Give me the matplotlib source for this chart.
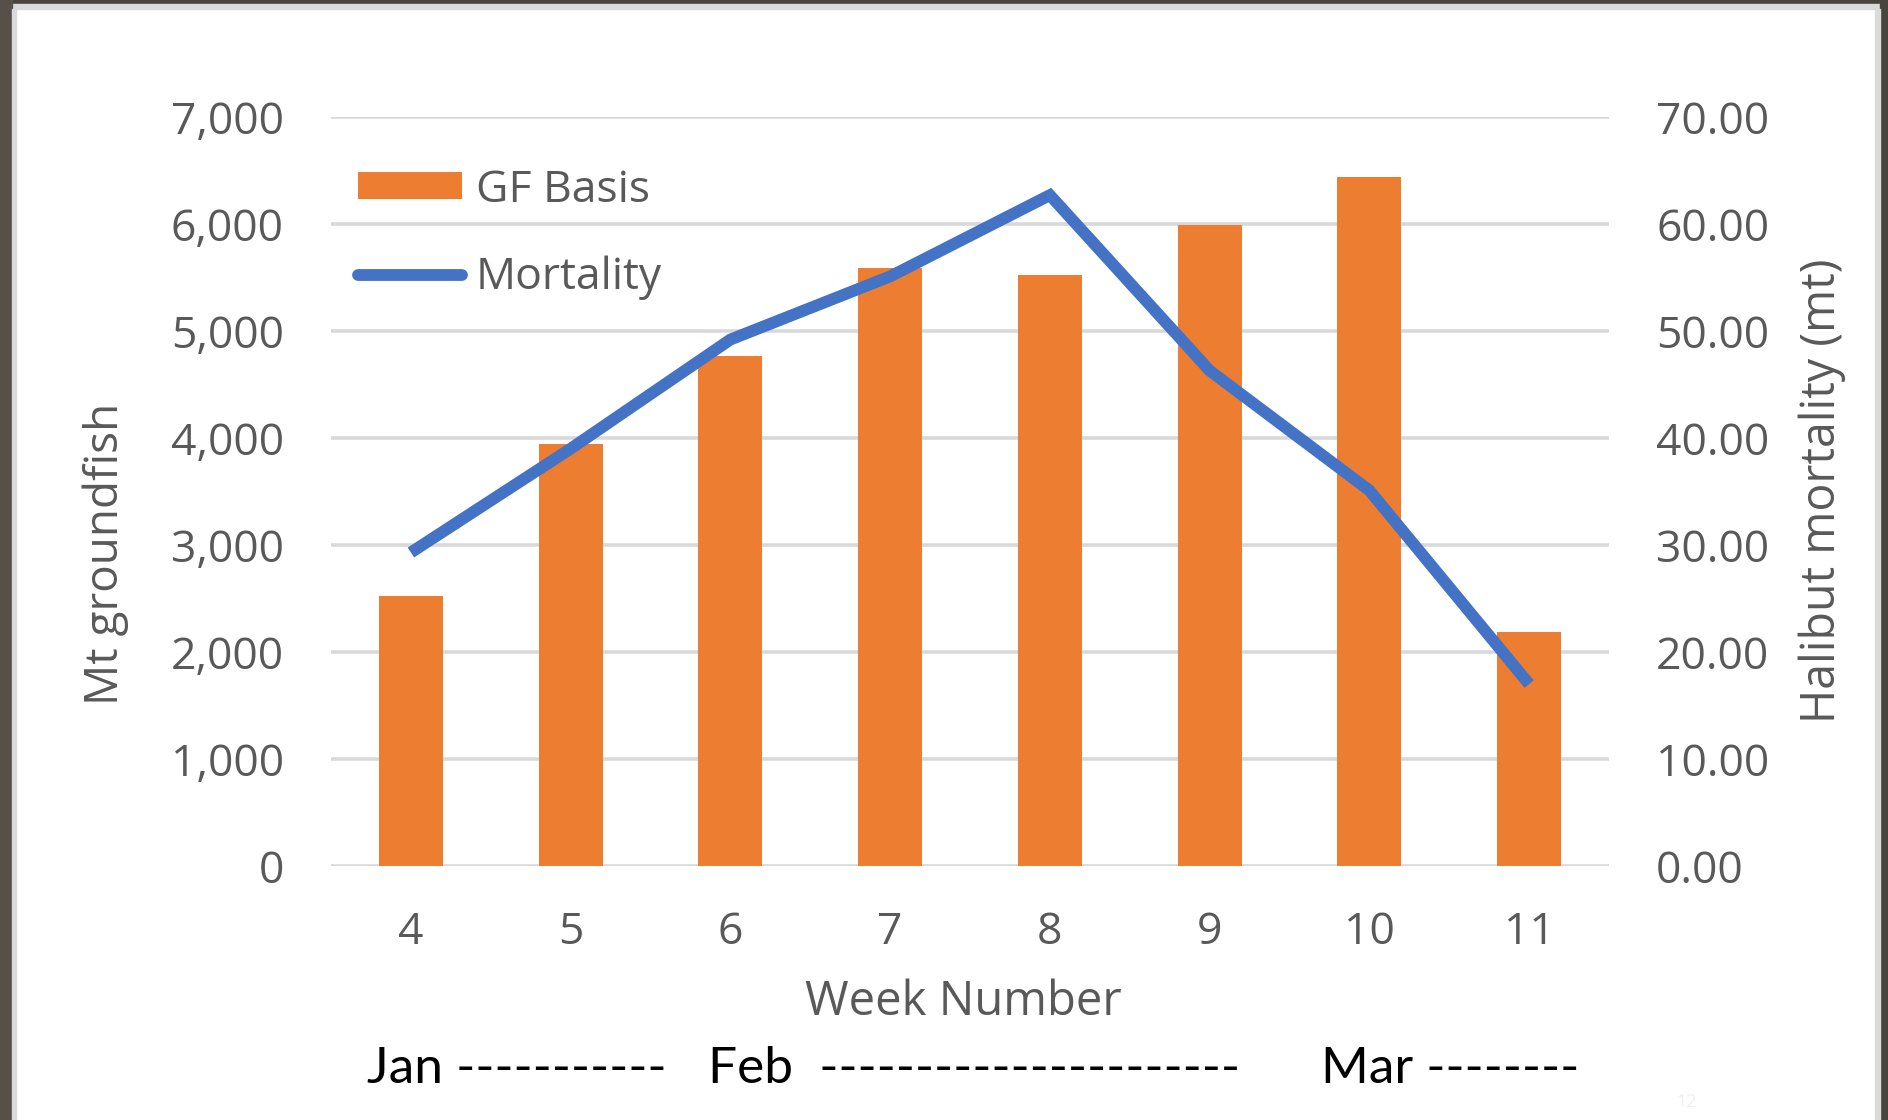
import matplotlib
matplotlib.use("Agg")
import matplotlib.pyplot as plt
from matplotlib.patches import Rectangle, Patch
from matplotlib.lines import Line2D
from matplotlib.ticker import FuncFormatter, MultipleLocator

weeks = ["4", "5", "6", "7", "8", "9", "10", "11"]
gf_basis = [2520, 3940, 4770, 5590, 5520, 5990, 6440, 2190]
mortality = [29.3, 39.0, 49.2, 55.1, 62.7, 46.3, 35.1, 17.0]
month_labels = ["Jan -----------", "Feb  ----------------------", "Mar --------"]

ORANGE = "#ED7D31"
BLUE = "#4472C4"
GRID = "#D9D9D9"
TXT = "#595959"
FONT = "Open Sans"

W, H = 1888, 1120
fig = plt.figure(figsize=(W / 100, H / 100), dpi=100)
fig.patch.set_facecolor("white")

# dark slide frame
dark = "#48443E"
for (x0, y0, w, h, c) in [
    (0, H - 4, W, 4, dark), (0, H - 9, W, 5, "#DADADA"),
    (0, 0, 12, H, "#55504A"), (12, 0, 4, H - 9, "#DADADA"),
    (1880, 0, 8, H, dark), (1875, 0, 5, H - 9, "#DADADA"),
]:
    fig.patches.append(Rectangle((x0 / W, y0 / H), w / W, h / H,
                                 transform=fig.transFigure, color=c, zorder=-5))

left, right, top, bottom = 331 / W, 1609 / W, 1 - 117 / H, 1 - 866 / H
ax = fig.add_axes([left, bottom, right - left, top - bottom])
ax2 = ax.twinx()

x = list(range(len(weeks)))
ax.bar(x, gf_basis, width=0.40, color=ORANGE, zorder=3)
ax.set_ylim(0, 7000)
ax.set_xlim(-0.5, len(weeks) - 0.5)
ax.yaxis.set_major_locator(MultipleLocator(1000))
ax.yaxis.set_major_formatter(FuncFormatter(lambda v, p: f"{int(v):,}"))
ax.grid(axis="y", color=GRID, linewidth=2.6, zorder=0)
ax.set_axisbelow(True)
ax.set_xticks(x)
ax.set_xticklabels(weeks)

ax2.plot(x, mortality, color=BLUE, linewidth=8.5, solid_joinstyle="miter",
         solid_capstyle="butt", zorder=4)
ax2.set_ylim(0, 70)
ax2.yaxis.set_major_locator(MultipleLocator(10))
ax2.yaxis.set_major_formatter(FuncFormatter(lambda v, p: f"{v:.2f}"))

for a in (ax, ax2):
    for s in a.spines.values():
        s.set_visible(False)
    a.tick_params(length=0, labelsize=32, labelcolor=TXT)
    for lab in a.get_xticklabels() + a.get_yticklabels():
        lab.set_fontfamily(FONT)
ax.tick_params(axis="y", pad=34)
ax2.tick_params(axis="y", pad=34)
ax.tick_params(axis="x", pad=32)

fig.text(106 / W, 1 - 554 / H, "Mt groundfish", rotation=90, ha="center", va="center",
         fontsize=33, color=TXT, family=FONT)
fig.text(1822 / W, 1 - 491 / H, "Halibut mortality (mt)", rotation=90, ha="center",
         va="center", fontsize=33.5, color=TXT, family=FONT)
fig.text(963 / W, 1 - 1002 / H, "Week Number", ha="center", va="center",
         fontsize=34, color=TXT, family=FONT)

month_x = [367, 708, 1321]
for mx, lab in zip(month_x, month_labels):
    fig.text(mx / W, 1 - 1069 / H, lab, ha="left", va="center", fontsize=37,
             color="black", family="Lato")

handles = [Patch(facecolor=ORANGE, edgecolor="none"),
           Line2D([0], [0], color=BLUE, linewidth=8.5, solid_capstyle="round")]
leg = fig.legend(handles, ["GF Basis", "Mortality"], loc="upper left",
                 bbox_to_anchor=(358 / W, 1 - 168 / H), frameon=False,
                 borderpad=0, borderaxespad=0, handlelength=2.35, handleheight=0.55,
                 handletextpad=0.3, labelspacing=0.97,
                 prop={"family": FONT, "size": 32})
for t in leg.get_texts():
    t.set_color(TXT)

fig.text(1687 / W, 1 - 1102 / H, "12", fontsize=13, color="#F0F0F0", family=FONT,
         ha="center", va="center")

fig.savefig("out.png", dpi=100, facecolor="white")
